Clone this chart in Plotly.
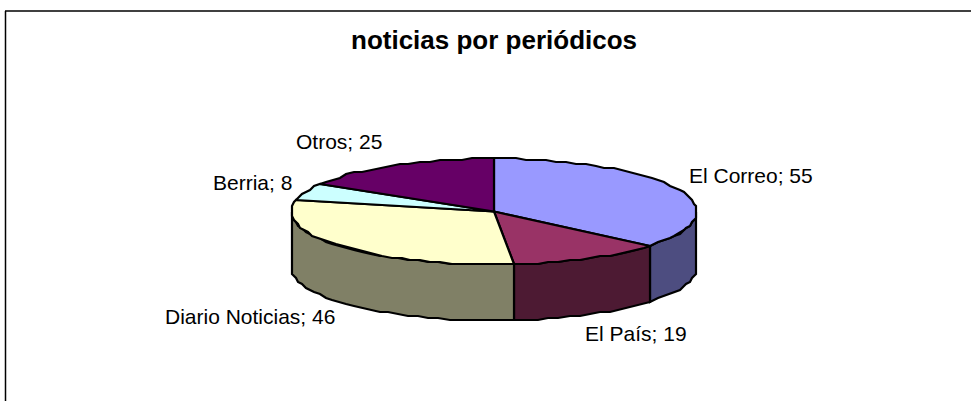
import numpy as np
import plotly.graph_objects as go

title = "noticias por periódicos"
categories = ["El Correo", "El País", "Diario Noticias", "Berria", "Otros"]
values = [55, 19, 46, 8, 25]
top_colors = ["#9999FF", "#993366", "#FFFFCC", "#CCFFFF", "#660066"]
side_colors = ["#4D4D80", "#4D1A33", "#808066", "#668080", "#330033"]

CX, CY, RX, RY, DEPTH = 494.0, 211.5, 203.0, 53.0, 56.0
LINE = dict(color="#000000", width=2.2)
label_pos = [(687, 175), (583, 333), (163, 316), (211, 182), (294, 141)]


def arc(a0, a1, dy=0.0, step=3.0):
    n = max(2, int(abs(a1 - a0) / step) + 1)
    t = np.radians(np.linspace(a0, a1, n))
    # the reference outline is visibly stepped, so vertices snap to a coarse pixel grid
    return 2 * np.round((CX + RX * np.sin(t)) / 2), 2 * np.round((CY - RY * np.cos(t) + dy) / 2)


fig = go.Figure()


def poly(x, y, color):
    fig.add_trace(go.Scatter(x=list(x) + [x[0]], y=list(y) + [y[0]], mode="lines", fill="toself",
                             fillcolor=color, line=LINE, hoverinfo="skip", showlegend=False))


edges = np.concatenate([[0], np.cumsum(values)]) / sum(values) * 360.0
for i in range(len(values)):
    a0, a1 = max(edges[i], 90), min(edges[i + 1], 270)
    if a1 > a0:
        xt, yt = arc(a0, a1)
        xb, yb = arc(a1, a0, DEPTH)
        poly(np.r_[xt, xb], np.r_[yt, yb], side_colors[i])
for i in range(len(values)):
    xt, yt = arc(edges[i], edges[i + 1])
    poly(np.r_[[CX], xt], np.r_[[CY], yt], top_colors[i])

annotations = [dict(x=494, y=40, text=f"<b>{title}</b>", showarrow=False, xanchor="center", yanchor="middle",
                    font=dict(size=26, color="#000000"))]
for c, v, (x, y) in zip(categories, values, label_pos):
    annotations.append(dict(x=x, y=y, text=f"{c}; {v}", showarrow=False, xanchor="left", yanchor="middle",
                            font=dict(size=21, color="#000000")))

fig.update_layout(
    width=971, height=401, margin=dict(l=0, r=0, t=0, b=0),
    paper_bgcolor="#FFFFFF", plot_bgcolor="#FFFFFF",
    font=dict(family="Liberation Sans"), showlegend=False, annotations=annotations,
    xaxis=dict(range=[0, 971], visible=False, fixedrange=True),
    yaxis=dict(range=[401, 0], visible=False, fixedrange=True),
    shapes=[dict(type="line", x0=5.5, x1=5.5, y0=11, y1=401, line=dict(color="#000000", width=1.5)),
            dict(type="line", x0=5, x1=971, y0=11, y1=11, line=dict(color="#000000", width=1.5))],
)
fig.write_html("out.html", config=dict(displayModeBar=False),
               post_script="document.body.style.margin='0';document.body.style.overflow='hidden';")
